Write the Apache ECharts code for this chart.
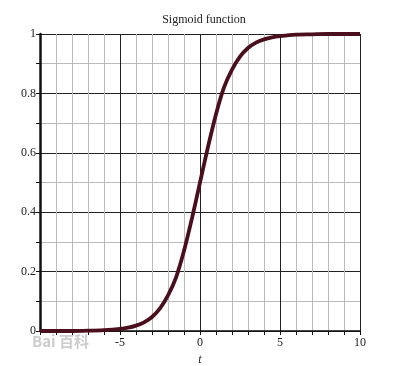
<!DOCTYPE html>
<html>
<head>
<meta charset="utf-8">
<script src="https://cdn.jsdelivr.net/npm/echarts@6/dist/echarts.min.js"></script>
<style>
html,body{margin:0;padding:0;background:#fff;}
#chart{width:408px;height:366px;}
</style>
</head>
<body>
<div id="chart"></div>
<script>
// values
var tValues = [-10, -9, -8, -7, -6, -5, -4.5, -4, -3.5, -3, -2.5, -2, -1.5, -1, -0.5, 0, 0.5, 1, 1.5, 2, 2.5, 3, 3.5, 4, 4.5, 5, 6, 7, 8, 9, 10];
var sigmoidValues = [0.000, 0.000, 0.000, 0.001, 0.003, 0.007, 0.011, 0.018, 0.029, 0.047, 0.076, 0.12, 0.18, 0.27, 0.38, 0.50, 0.62, 0.73, 0.82, 0.88, 0.924, 0.953, 0.971, 0.982, 0.989, 0.993, 0.998, 0.999, 1.000, 1.000, 1.000];
var xTickLabels = ['-5', '0', '5', '10'];
var yTickLabels = ['0', '0.2', '0.4', '0.6', '0.8', '1'];
var titleText = 'Sigmoid function';
var xName = 't';

var points = tValues.map(function (t, i) { return [t, sigmoidValues[i]]; });
var serif = 'Liberation Serif';

var chart = echarts.init(document.getElementById('chart'), null, {renderer: 'canvas'});
chart.setOption({
  animation: false,
  backgroundColor: '#ffffff',
  title: {
    text: titleText, left: 'center', top: 9,
    textStyle: {fontFamily: serif, fontSize: 12, fontWeight: 'normal', color: '#222'}
  },
  grid: {left: 40, right: 48, top: 34, bottom: 35, containLabel: false, outerBoundsMode: 'none'},
  xAxis: {
    type: 'value', min: -10, max: 10, interval: 1,
    name: xName, nameLocation: 'middle', nameGap: 20,
    nameTextStyle: {fontFamily: serif, fontStyle: 'italic', fontSize: 12, color: '#222'},
    axisLine: {show: true, onZero: false, lineStyle: {color: '#111', width: 1.5}},
    axisTick: {show: true, length: 4, lineStyle: {color: '#111'}},
    axisLabel: {
      fontFamily: serif, fontSize: 12, color: '#222', margin: 6,
      formatter: function (v) {
        var s = String(v);
        return xTickLabels.indexOf(s) >= 0 ? s : '';
      }
    },
    splitLine: {show: true, lineStyle: {color: ['#222', '#bbb', '#bbb', '#bbb', '#bbb'], width: 1}}
  },
  yAxis: {
    type: 'value', min: 0, max: 1, interval: 0.1,
    axisLine: {show: true, onZero: false, lineStyle: {color: '#111', width: 2.5}},
    axisTick: {show: true, length: 4, lineStyle: {color: '#111'}},
    axisLabel: {
      fontFamily: serif, fontSize: 12, color: '#222', margin: 4,
      formatter: function (v) {
        var s = String(Math.round(v * 10) / 10);
        return yTickLabels.indexOf(s) >= 0 ? s : '';
      }
    },
    splitLine: {show: true, lineStyle: {color: ['#222', '#bbb'], width: 1}}
  },
  graphic: [{
    type: 'text', left: 32, top: 334, z: 100,
    style: {text: 'Bai \u767e\u79d1', fill: 'rgba(170,170,170,0.6)', font: 'bold 15px "Noto Sans CJK SC"'}
  }],
  series: [{
    type: 'line', data: points, smooth: 0.3, showSymbol: false,
    lineStyle: {color: '#4a0f1c', width: 3.8},
    z: 10
  }]
});
</script>
</body>
</html>
